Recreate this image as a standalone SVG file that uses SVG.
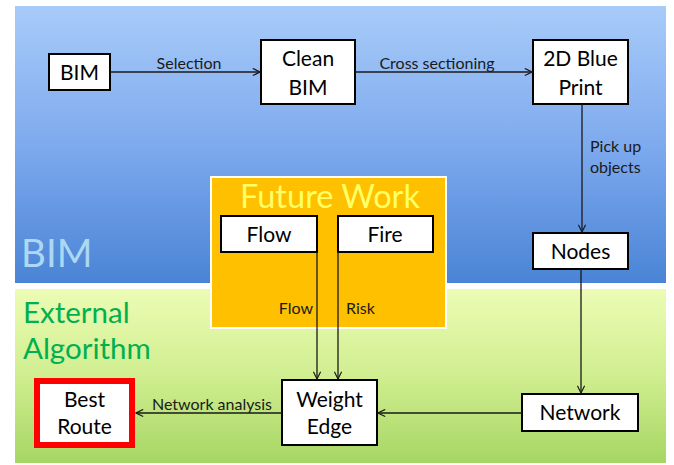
<svg xmlns="http://www.w3.org/2000/svg" width="674" height="465" viewBox="0 0 674 465">
<style>
.box{fill:#fff;stroke:#000;stroke-width:2}
.nt{font-family:Lato,"Open Sans",sans-serif;font-size:21px;fill:#000;text-anchor:middle}
.lb{font-family:Lato,"Open Sans",sans-serif;font-size:16px;fill:#1a1a1a}
.cn{stroke:#1a1a1a;stroke-width:1.3;fill:none;marker-end:url(#ah)}
</style>
<defs>
<linearGradient id="gb" x1="0" y1="0" x2="0" y2="1">
<stop offset="0" stop-color="#a8cbf8"/>
<stop offset="0.5" stop-color="#7eaaee"/>
<stop offset="1" stop-color="#4a84d6"/>
</linearGradient>
<linearGradient id="gg" x1="0" y1="0" x2="0" y2="1">
<stop offset="0" stop-color="#ecfcb4"/>
<stop offset="0.5" stop-color="#d0ee90"/>
<stop offset="1" stop-color="#a6d664"/>
</linearGradient>
<marker id="ah" viewBox="0 0 10 10" refX="9" refY="5" markerWidth="9" markerHeight="9" markerUnits="userSpaceOnUse" orient="auto">
<path d="M1,1 L9,5 L1,9" fill="none" stroke="#1a1a1a" stroke-width="1.3"/>
</marker>
</defs>
<rect width="674" height="465" fill="#fff"/>
<g id="panel-bim">
<rect x="15" y="6" width="651" height="277" fill="url(#gb)"/>
<text x="21" y="267" font-family="Lato,'Open Sans',sans-serif" font-size="38.5" fill="#acd8f2">BIM</text>
</g>
<g id="panel-ext">
<rect x="15" y="289" width="651" height="174" fill="url(#gg)"/>
<text font-family="Lato,'Open Sans',sans-serif" font-size="29.5" fill="#00b050"><tspan x="23" y="323">External</tspan><tspan x="23" y="359">Algorithm</tspan></text>
</g>
<g id="future-work">
<rect x="211" y="177" width="235" height="151" fill="#ffc000" stroke="#fff" stroke-width="2"/>
<text x="330" y="208" font-family="Lato,'Open Sans',sans-serif" font-size="32.5" fill="#ffff66" text-anchor="middle">Future Work</text>
</g>
<g id="flow"><rect class="box" x="221" y="216" width="96" height="36"/><text class="nt" x="269" y="241.5">Flow</text></g>
<g id="fire"><rect class="box" x="338" y="216" width="95" height="36"/><text class="nt" x="385" y="241.5">Fire</text></g>
<g id="bim"><rect class="box" x="49" y="54" width="61" height="36"/><text class="nt" x="79.5" y="79.5">BIM</text></g>
<g id="clean-bim"><rect class="box" x="261" y="40" width="94" height="64"/><text class="nt" x="308" y="66">Clean</text><text class="nt" x="308" y="95">BIM</text></g>
<g id="blueprint"><rect class="box" x="533" y="40" width="95" height="64"/><text class="nt" x="580.5" y="66">2D Blue</text><text class="nt" x="580.5" y="95">Print</text></g>
<g id="nodes"><rect class="box" x="533" y="233" width="95" height="36"/><text class="nt" x="580.5" y="258.5">Nodes</text></g>
<g id="network"><rect class="box" x="522" y="394" width="116" height="37"/><text class="nt" x="580" y="419.5">Network</text></g>
<g id="weight-edge"><rect class="box" x="282" y="380" width="95" height="65"/><text class="nt" x="329.5" y="407">Weight</text><text class="nt" x="329.5" y="434">Edge</text></g>
<g id="best-route"><rect x="37" y="381" width="95" height="64" fill="#fff" stroke="#ff0000" stroke-width="6"/><text class="nt" x="84.5" y="407">Best</text><text class="nt" x="84.5" y="434">Route</text></g>
<g id="connectors">
<line class="cn" x1="110" y1="72" x2="260" y2="72"/>
<line class="cn" x1="355" y1="72" x2="532" y2="72"/>
<line class="cn" x1="582" y1="104" x2="582" y2="232"/>
<line class="cn" x1="581" y1="269" x2="581" y2="393"/>
<line class="cn" x1="522" y1="413" x2="378" y2="413"/>
<line class="cn" x1="282" y1="413" x2="136" y2="413"/>
<line class="cn" x1="317" y1="252" x2="317" y2="379"/>
<line class="cn" x1="338" y1="252" x2="338" y2="379"/>
<text class="lb" x="189" y="69" text-anchor="middle">Selection</text>
<text class="lb" x="437" y="69" text-anchor="middle">Cross sectioning</text>
<text class="lb" x="590" y="152">Pick up</text>
<text class="lb" x="590" y="173">objects</text>
<text class="lb" x="313" y="314" text-anchor="end">Flow</text>
<text class="lb" x="346" y="314">Risk</text>
<text class="lb" x="212" y="410" text-anchor="middle">Network analysis</text>
</g>
</svg>
